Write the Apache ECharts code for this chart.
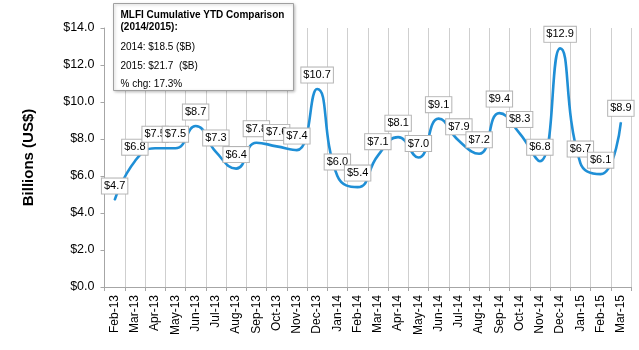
<!DOCTYPE html>
<html>
<head>
<meta charset="utf-8">
<script src="https://cdn.jsdelivr.net/npm/echarts@6/dist/echarts.min.js"></script>
<style>
  html, body { margin: 0; padding: 0; background: #fff; }
  #chart { width: 639px; height: 350px; }
</style>
</head>
<body>
<div id="chart"></div>
<script>
// monthly values, billions US$
const months = ['Feb-13', 'Mar-13', 'Apr-13', 'May-13', 'Jun-13', 'Jul-13', 'Aug-13', 'Sep-13', 'Oct-13', 'Nov-13', 'Dec-13',
  'Jan-14', 'Feb-14', 'Mar-14', 'Apr-14', 'May-14', 'Jun-14', 'Jul-14', 'Aug-14', 'Sep-14', 'Oct-14', 'Nov-14', 'Dec-14',
  'Jan-15', 'Feb-15', 'Mar-15']
const volumes = [4.7, 6.8, 7.5, 7.5, 8.7, 7.3, 6.4, 7.8, 7.6, 7.4, 10.7,
  6.0, 5.4, 7.1, 8.1, 7.0, 9.1, 7.9, 7.2, 9.4, 8.3, 6.8, 12.9,
  6.7, 6.1, 8.9]
const yTicks = [0, 2, 4, 6, 8, 10, 12, 14]
const noteLines = ['2014: $18.5 ($B)', '2015: $21.7  ($B)', '% chg: 17.3%']

const chart = echarts.init(document.getElementById('chart'))

const option = {
  animation: false,
  grid: { left: 104.5, right: 8, top: 28, bottom: 63 },
  xAxis: {
    type: 'category',
    data: months,
    boundaryGap: true,
    axisLine: { lineStyle: { color: '#a6a6a6', width: 1 } },
    axisTick: { show: true, length: 4, lineStyle: { color: '#a6a6a6' } },
    splitLine: { show: true, lineStyle: { color: '#cfcfcf', width: 1 } },
    axisLabel: {
      rotate: 90,
      interval: 0,
      margin: 8,
      fontSize: 12,
      color: '#000',
      fontFamily: 'Liberation Sans, Arial, sans-serif'
    }
  },
  yAxis: {
    type: 'value',
    min: yTicks[0],
    max: yTicks[yTicks.length - 1],
    interval: 2,
    name: 'Billions (US$)',
    nameLocation: 'middle',
    nameGap: 68,
    nameTextStyle: {
      fontSize: 15,
      fontWeight: 'bold',
      color: '#000',
      fontFamily: 'Liberation Sans, Arial, sans-serif'
    },
    axisLine: { show: true, lineStyle: { color: '#a6a6a6', width: 1 } },
    axisTick: { show: true, length: 4, lineStyle: { color: '#a6a6a6' } },
    splitLine: { show: false },
    axisLabel: {
      margin: 10,
      fontSize: 12.5,
      color: '#000',
      fontFamily: 'Liberation Sans, Arial, sans-serif',
      formatter: v => '$' + v.toFixed(1)
    }
  },
  series: [
    {
      type: 'line',
      data: volumes,
      smooth: true,
      showSymbol: true,
      symbol: 'circle',
      symbolSize: 1,
      itemStyle: { color: '#1f8fd6' },
      lineStyle: { color: '#1f8fd6', width: 2.6 },
      label: {
        show: true,
        position: 'top',
        distance: 6,
        formatter: p => '$' + p.value.toFixed(1),
        fontSize: 11,
        color: '#000',
        fontFamily: 'Liberation Sans, Arial, sans-serif',
        backgroundColor: '#fff',
        borderColor: '#b4b4b4',
        borderWidth: 1,
        padding: [1, 2, 1, 2],
        lineHeight: 13
      },
      labelLayout: { hideOverlap: false }
    }
  ],
  graphic: [
    {
      type: 'rect',
      left: 113,
      top: 3,
      z: 100,
      shape: { x: 0, y: 0, width: 180, height: 87 },
      style: {
        fill: '#fff',
        stroke: '#a0a0a0',
        lineWidth: 1,
        shadowBlur: 3,
        shadowColor: 'rgba(0,0,0,0.25)',
        shadowOffsetX: 1,
        shadowOffsetY: 1
      }
    },
    {
      type: 'text',
      left: 120.5,
      top: 9,
      z: 101,
      style: {
        text: 'MLFI Cumulative YTD Comparison\n(2014/2015):',
        font: 'bold 10px Liberation Sans, Arial, sans-serif',
        lineHeight: 12,
        fill: '#000'
      }
    },
    {
      type: 'text',
      left: 120.5,
      top: 38.5,
      z: 101,
      style: {
        text: noteLines.join('\n'),
        font: '10px Liberation Sans, Arial, sans-serif',
        lineHeight: 18.2,
        fill: '#000'
      }
    }
  ]
}

chart.setOption(option, true)
</script>
</body>
</html>
